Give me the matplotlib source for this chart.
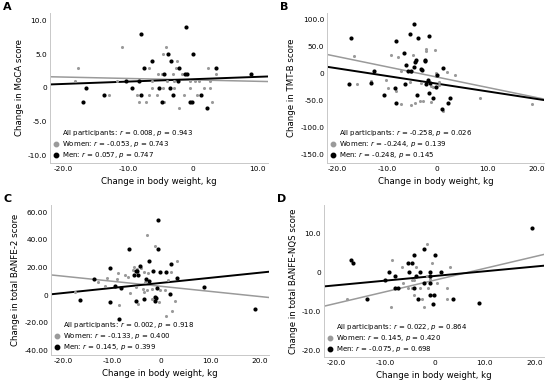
import matplotlib
matplotlib.use("Agg")
import matplotlib.pyplot as plt
from matplotlib.lines import Line2D
import numpy as np

plt.rcParams["axes.unicode_minus"] = False

# ---------------- datos ----------------
xlabel = "Change in body weight, kg"

# Panel A: MoCA
a_men_x = [-8.1, -1.1, -6.4, -7.5, -3.8, -3.4, 0.0, -2.2, 3.6, 9.0, -4.4, -1.3, -0.9, -10.4, -2.3,
           -8.4, -16.5, -9.4, -5.2, -3.5, -13.7, -8.0, -3.1, 1.2, -17.0, -4.8, -0.5, -0.2, 2.1]
a_men_y = [8, 9, 4, 3, 5, 4, 5, 3, 3, 2, 2, 2, 2, 1, 1,
           1, 0, 0, 0, 0, -1, -1, -1, -1, -2, -2, -2, -2, -3]
a_wom_x = [-17.8, -18.2, -11.0, -11.8, -4.2, -4.7, -2.5, -6.8, -2.6, 2.3, 3.5, -5.4, -4.8, -3.1, -1.7,
           3.5, -6.4, -4.0, -3.0, -0.5, 0.3, 1.0, 2.6, -6.4, -4.6, -2.9, -0.5, 1.7, 2.6,
           -13.0, -8.7, -6.8, -5.5, -1.4, 0.6, -8.4, -7.2, -4.5, 3.0, -2.2]
a_wom_y = [3, 1, 6, 1, 6, 5, 4, 3, 3, 3, 3, 2, 2, 2, 2,
           2, 1, 1, 1, 1, 1, 1, 1, 0, 0, 0, 0, 0, 0,
           -1, -1, -1, -1, -1, -1, -2, -2, -2, -2, -3]
a_fit = {"wom": (1.2, -0.021), "men": (1.3, 0.035)}  # (intercepto, pendiente)
a_leg = ["All participants: $r$ = 0.008, $p$ = 0.943",
         "Women: $r$ = -0.053, $p$ = 0.743",
         "Men: $r$ = 0.057, $p$ = 0.747"]

# Panel B: TMT-B
b_men_x = [-17.2, -4.7, -5.5, -3.8, -1.7, -8.3, -6.7, -6.3, -4.5, -4.2, -2.5, -2.5, 1.2, -12.7, -5.8,
           -5.2, -4.7, -3.3, -3.1, 0.0, -17.7, -13.3, -6.5, -8.5, -2.3, -1.9, -1.5, -0.2, -1.6,
           -0.8, 2.5, 2.1, -8.3, -10.7, -4.0, 1.0]
b_men_y = [66, 91, 73.5, 65, 68.6, 60, 38, 15.3, 21, 25.7, 25.7, 22.7, 9.2, 4.3, 4.3,
           4.9, 12, 7.4, 6, -3.7, -19, -18.4, -19.6, -26, -19.6, -12.3, -17.2, -25.7, -35.5,
           -44.7, -44.7, -54, -54, -40.4, -40.4, -65.6]
b_wom_x = [-16.7, -9.2, -7.9, -4.8, -2.2, -2.2, -0.5, -4.2, -7.2, -5.3, 1.9, 3.5, -0.2, -0.2,
           -16.1, -13.3, -10.3, -9.9, -8.2, -7.3, -5.5, -3.2, -3.5, -4.5, -5.2, -2.9, -1.3,
           -0.9, 0.3, 0.3, -1.3, 1.2, 8.6, 19.0]
b_wom_y = [32, 34.3, 30.6, 35, 45, 41.7, 44, 23.3, 4.9, 3, 3, -3.7, 0, -4,
           -19, -13.5, -12.3, -27.6, -31.9, -56, -15.3, -18.4, -50.9, -54, -58.8, -50.9, -23.3,
           -25.7, -15.3, -21.4, -52.7, -69, -46, -57]
b_fit = {"wom": (-6.7, -1.89), "men": (-18.8, -1.41)}
b_leg = ["All participants: $r$ = -0.258, $p$ = 0.026",
         "Women: $r$ = -0.244, $p$ = 0.139",
         "Men: $r$ = -0.248, $p$ = 0.145"]

# Panel C: BANFE-2 total
c_men_x = [-0.7, -6.6, -0.7, -2.5, 2.0, -10.4, -4.4, -5.1, -4.9, -1.6, -0.3, 0.9, -5.6, -4.7, 3.3,
           -3.1, -2.4, -13.6, -9.4, -8.1, -0.9, 8.6, 1.7, -3.5, -5.2, -1.2, -1.0, -1.2, -16.6,
           -10.5, -8.5, 19.1]
c_men_y = [54.5, 33.4, 33.4, 24.7, 22.5, 19.4, 21.3, 17.4, 17.4, 17.4, 16.5, 16.5, 14.5, 14.5, 12.6,
           11.6, 10.2, 11.6, 6.3, 4.8, 4.8, 5.6, 0.5, -2.9, -4.4, -1.2, -2.4, -4.4, -3.4,
           -5.3, -17.4, -10.4]
c_wom_x = [-2.8, -1.3, 3.3, -5.5, -4.1, -4.9, -5.8, -8.7, -7.3, -6.7, -2.6, 2.0, -3.6, -11.1,
           -9.0, -12.9, -11.5, -5.1, -3.2, -3.7, -2.8, -1.8, -0.3, 0.7, 1.4, -3.6, -1.8, -0.5,
           -4.7, 2.8, -8.6, 2.1, 1.0, -6.3, -17.6]
c_wom_y = [43.6, 35.8, 24.7, 20.6, 19.9, 18.9, 18.4, 15.7, 14.5, 13.1, 15.7, 16.5, 16.9, 12.6,
           11.6, 9.7, 6.5, 6.1, 9.2, 4.4, 3.4, 4.4, 3.6, 3.4, 10.9, 2.4, -2.9, -5.3,
           -6.8, -4.4, -7.3, -11.6, -15.5, 1.2, 1.9]
c_fit = {"wom": (6.3, -0.37), "men": (8.8, 0.37)}
c_leg = ["All participants: $r$ = 0.002, $p$ = 0.918",
         "Women: $r$ = -0.133, $p$ = 0.400",
         "Men: $r$ = 0.145, $p$ = 0.399"]

# Panel D: BANFE-NQS
d_men_x = [19.5, -17.0, -16.5, -2.3, -4.3, 0.0, -5.5, -4.6, -9.4, -5.2, -3.1, -1.1, 1.1, -8.1,
           -3.8, -1.1, -10.2, -8.1, -7.4, -2.3, -1.1, -4.3, -3.5, -13.7, -1.1, -0.3, -0.5, 3.6, 8.9]
d_men_y = [11.5, 3.3, 2.3, 6.0, 4.5, 4.5, 2.3, 2.3, 0.2, 0.2, 0.2, 0.2, 0.2, -0.9,
           -0.9, -0.9, -2.0, -3.9, -3.9, -2.8, -2.8, -3.9, -6.9, -6.9, -5.8, -5.8, -8.0, -6.9, -7.9]
d_wom_x = [-1.6, -8.7, -0.6, 2.9, -6.7, -3.8, -6.4, -4.7, -4.3, 0.3, -1.6, -1.1, -4.7, -5.5,
           -3.0, -1.5, 2.3, -4.3, -2.7, 2.4, -17.7, -8.9, -2.3, -0.4]
d_wom_y = [7.3, 3.3, 2.3, 1.3, 1.3, 1.3, -2.8, -1.9, -1.9, -2.6, -0.9, -1.7, -3.9, -3.9,
           -3.9, -3.9, -3.9, -5.8, -6.9, -6.9, -6.9, -8.8, -8.8, -5.8]
d_fit = {"wom": (-1.95, 0.30), "men": (-0.9, 0.12)}
d_leg = ["All participants: $r$ = 0.022, $p$ = 0.864",
         "Women: $r$ = 0.145, $p$ = 0.420",
         "Men: $r$ = -0.075, $p$ = 0.698"]

GRIS = "#9a9a9a"
NEGRO = "#000000"

fig = plt.figure(figsize=(5.5, 3.84), dpi=100)
W, H = 550.0, 384.0


def panel(rect_px, letra, ylabel, men_x, men_y, wom_x, wom_y, fit, leyenda,
          xlim, ylim, xticks, yticks, yfmt):
    l, t, r, b = rect_px
    ax = fig.add_axes([l / W, 1 - b / H, (r - l) / W, (b - t) / H])
    ax.scatter(wom_x, wom_y, s=5, color=GRIS, linewidths=0, zorder=3)
    ax.scatter(men_x, men_y, s=9, color=NEGRO, linewidths=0, zorder=4)
    xs = np.array(xlim)
    ax.plot(xs, fit["wom"][0] + fit["wom"][1] * xs, color=GRIS, lw=1.1, zorder=2)
    ax.plot(xs, fit["men"][0] + fit["men"][1] * xs, color=NEGRO, lw=1.4, zorder=2)
    ax.set_xlim(xlim)
    ax.set_ylim(ylim)
    ax.set_xticks(xticks)
    ax.set_xticklabels(["0" if v == 0 else f"{v:.1f}" for v in xticks])
    ax.set_yticks(yticks)
    ax.set_yticklabels(["0" if v == 0 else yfmt.format(v) for v in yticks])
    ax.tick_params(length=0, labelsize=5.3, pad=2)
    for s in ["top", "right"]:
        ax.spines[s].set_visible(False)
    for s in ["left", "bottom"]:
        ax.spines[s].set_color("#c8c8c8")
        ax.spines[s].set_linewidth(0.7)
    ax.set_xlabel(xlabel, fontsize=6.2, labelpad=4)
    ax.set_ylabel(ylabel, fontsize=6.2, labelpad=3)

    # leyenda
    handles = [Line2D([], [], ls="none", marker="o", color="none"),
               Line2D([], [], ls="none", marker="o", color=GRIS, markersize=3.2),
               Line2D([], [], ls="none", marker="o", color=NEGRO, markersize=3.2)]
    ax.legend(handles, leyenda, loc="lower left", frameon=False, fontsize=5.0,
              handlelength=0.6, handletextpad=0.5, labelspacing=0.2,
              borderaxespad=0.2, bbox_to_anchor=(0.0, -0.01))
    fig.text((l - 47) / W, 1 - (t - 6) / H, letra, fontsize=8, fontweight="bold",
             va="center", ha="left")
    return ax


panel((50, 13, 268, 163), "A", "Change in MoCA score",
      a_men_x, a_men_y, a_wom_x, a_wom_y, a_fit, a_leg,
      (-22.1, 11.6), (-11.1, 11.1), [-20, -10, 0, 10], [-10, -5, 0, 5, 10], "{:.1f}")

panel((327, 13, 544, 163), "B", "Change in TMT-B score",
      b_men_x, b_men_y, b_wom_x, b_wom_y, b_fit, b_leg,
      (-22.1, 21.4), (-165, 111.5), [-20, -10, 0, 10, 20], [-150, -100, -50, 0, 50, 100], "{:.1f}")

panel((51, 205, 269, 355), "C", "Change in total BANFE-2 score",
      c_men_x, c_men_y, c_wom_x, c_wom_y, c_fit, c_leg,
      (-22.4, 21.9), (-43.6, 65.4), [-20, -10, 0, 10, 20], [-40, -20, 0, 20, 40, 60], "{:.2f}")

panel((324, 205, 544, 357), "D", "Change in total BANFE-NQS score",
      d_men_x, d_men_y, d_wom_x, d_wom_y, d_fit, d_leg,
      (-22.4, 21.9), (-21.7, 17.3), [-20, -10, 0, 10, 20], [-20, -10, 0, 10], "{:.1f}")

fig.savefig("out.png", dpi=100)
